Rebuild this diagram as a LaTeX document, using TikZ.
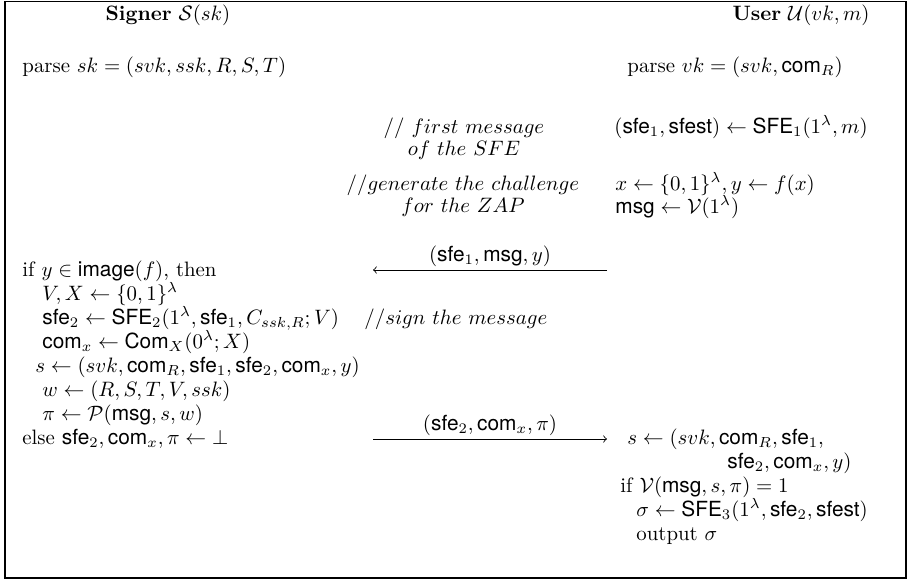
\documentclass[tikz,border=0pt]{standalone}
\usepackage{amsmath,amssymb}
\usepackage{fontspec}
\newfontfamily\sfv{TeX Gyre Heros}
\usetikzlibrary{positioning}
\newcommand{\msf}[1]{\text{\sfv #1}}
\newcommand{\sfe}{\msf{sfe}}
\newcommand{\msgv}{\msf{msg}}
\newcommand{\comv}{\msf{com}}
\newcommand{\SFEv}{\msf{SFE}}
\tikzset{
  txt/.style={anchor=base west, inner sep=0pt},
  cmt/.style={anchor=base, inner sep=0pt, align=center},
  msgline/.style={->, thin},
}
\begin{document}
\begin{tikzpicture}[x=0.48pt, y=-0.48pt]
        \useasboundingbox (0,0) rectangle (909,581);
        \draw [line width=0.9pt] (5,1.5) rectangle (906,578);

        % parties
        \node (S) [anchor=base] at (168,20) {\textbf{Signer} $\mathcal{S}(sk)$};
        \node (U) [anchor=base] at (801,20) {\textbf{User} $\mathcal{U}(vk,m)$};

        % signer side
        \node (s1) [txt] at (22,72) {parse $sk=(svk,ssk,R,S,T)$};
        \node (s2) [txt] at (22,276) {if $y\in\msf{image}(f)$, then};
        \node (s3) [txt] at (42,300) {$V,X\leftarrow\{0,1\}^\lambda$};
        \node (s4) [txt] at (42,324) {$\sfe_2\leftarrow\SFEv_2(1^\lambda,\sfe_1,C_{ssk,R};V)$};
        \node (s5) [txt] at (42,348) {$\comv_x\leftarrow\msf{Com}_X(0^\lambda;X)$};
        \node (s6) [txt] at (35,372) {$s\leftarrow(svk,\comv_R,\sfe_1,\sfe_2,\comv_x,y)$};
        \node (s7) [txt] at (42,396) {$w\leftarrow(R,S,T,V,ssk)$};
        \node (s8) [txt] at (42,420) {$\pi\leftarrow\mathcal{P}(\msgv,s,w)$};
        \node (s9) [txt] at (22,444) {else $\sfe_2,\comv_x,\pi\leftarrow\bot$};

        % user side
        \node (u1) [txt] at (627,72) {parse $vk=(svk,\comv_R)$};
        \node (u2) [txt] at (614,133) {$(\sfe_1,\msf{sfest})\leftarrow\SFEv_1(1^\lambda,m)$};
        \node (u3) [txt] at (615,190) {$x\leftarrow\{0,1\}^\lambda,y\leftarrow f(x)$};
        \node (u4) [txt] at (615,213) {$\msgv\leftarrow\mathcal{V}(1^\lambda)$};
        \node (u5) [txt] at (627,444) {$s\leftarrow(svk,\comv_R,\sfe_1,$};
        \node (u6) [anchor=base east, inner sep=0pt] at (852,468) {$\sfe_2,\comv_x,y)$};
        \node (u7) [txt] at (620,492) {if $\mathcal{V}(\msgv,s,\pi)=1$};
        \node (u8) [txt] at (636,516) {$\sigma\leftarrow\SFEv_3(1^\lambda,\sfe_2,\msf{sfest})$};
        \node (u9) [txt] at (636,540) {output $\sigma$};

        % comments
        \node (c1) [cmt] at (464,155) {$//\ first\ message$\\[-1.5pt]$of\ the\ SFE$};
        \node (c2) [cmt] at (463,212) {$//generate\ the\ challenge$\\[-1.5pt]$for\ the\ ZAP$};
        \node (c3) [txt] at (364,324) {$//sign\ the\ message$};

        % messages
        \coordinate (a1l) at (373,270);
        \coordinate (a1r) at (607,270);
        \coordinate (a2l) at (373,439);
        \coordinate (a2r) at (607,439);

        \path [msgline] (a1r) edge node [above, inner sep=1.5pt] (m1) {$(\sfe_1,\msgv,y)$} (a1l)
                        (a2l) edge node [above, inner sep=1.5pt] (m2) {$(\sfe_2,\comv_x,\pi)$} (a2r);
    \end{tikzpicture}
\end{document}
